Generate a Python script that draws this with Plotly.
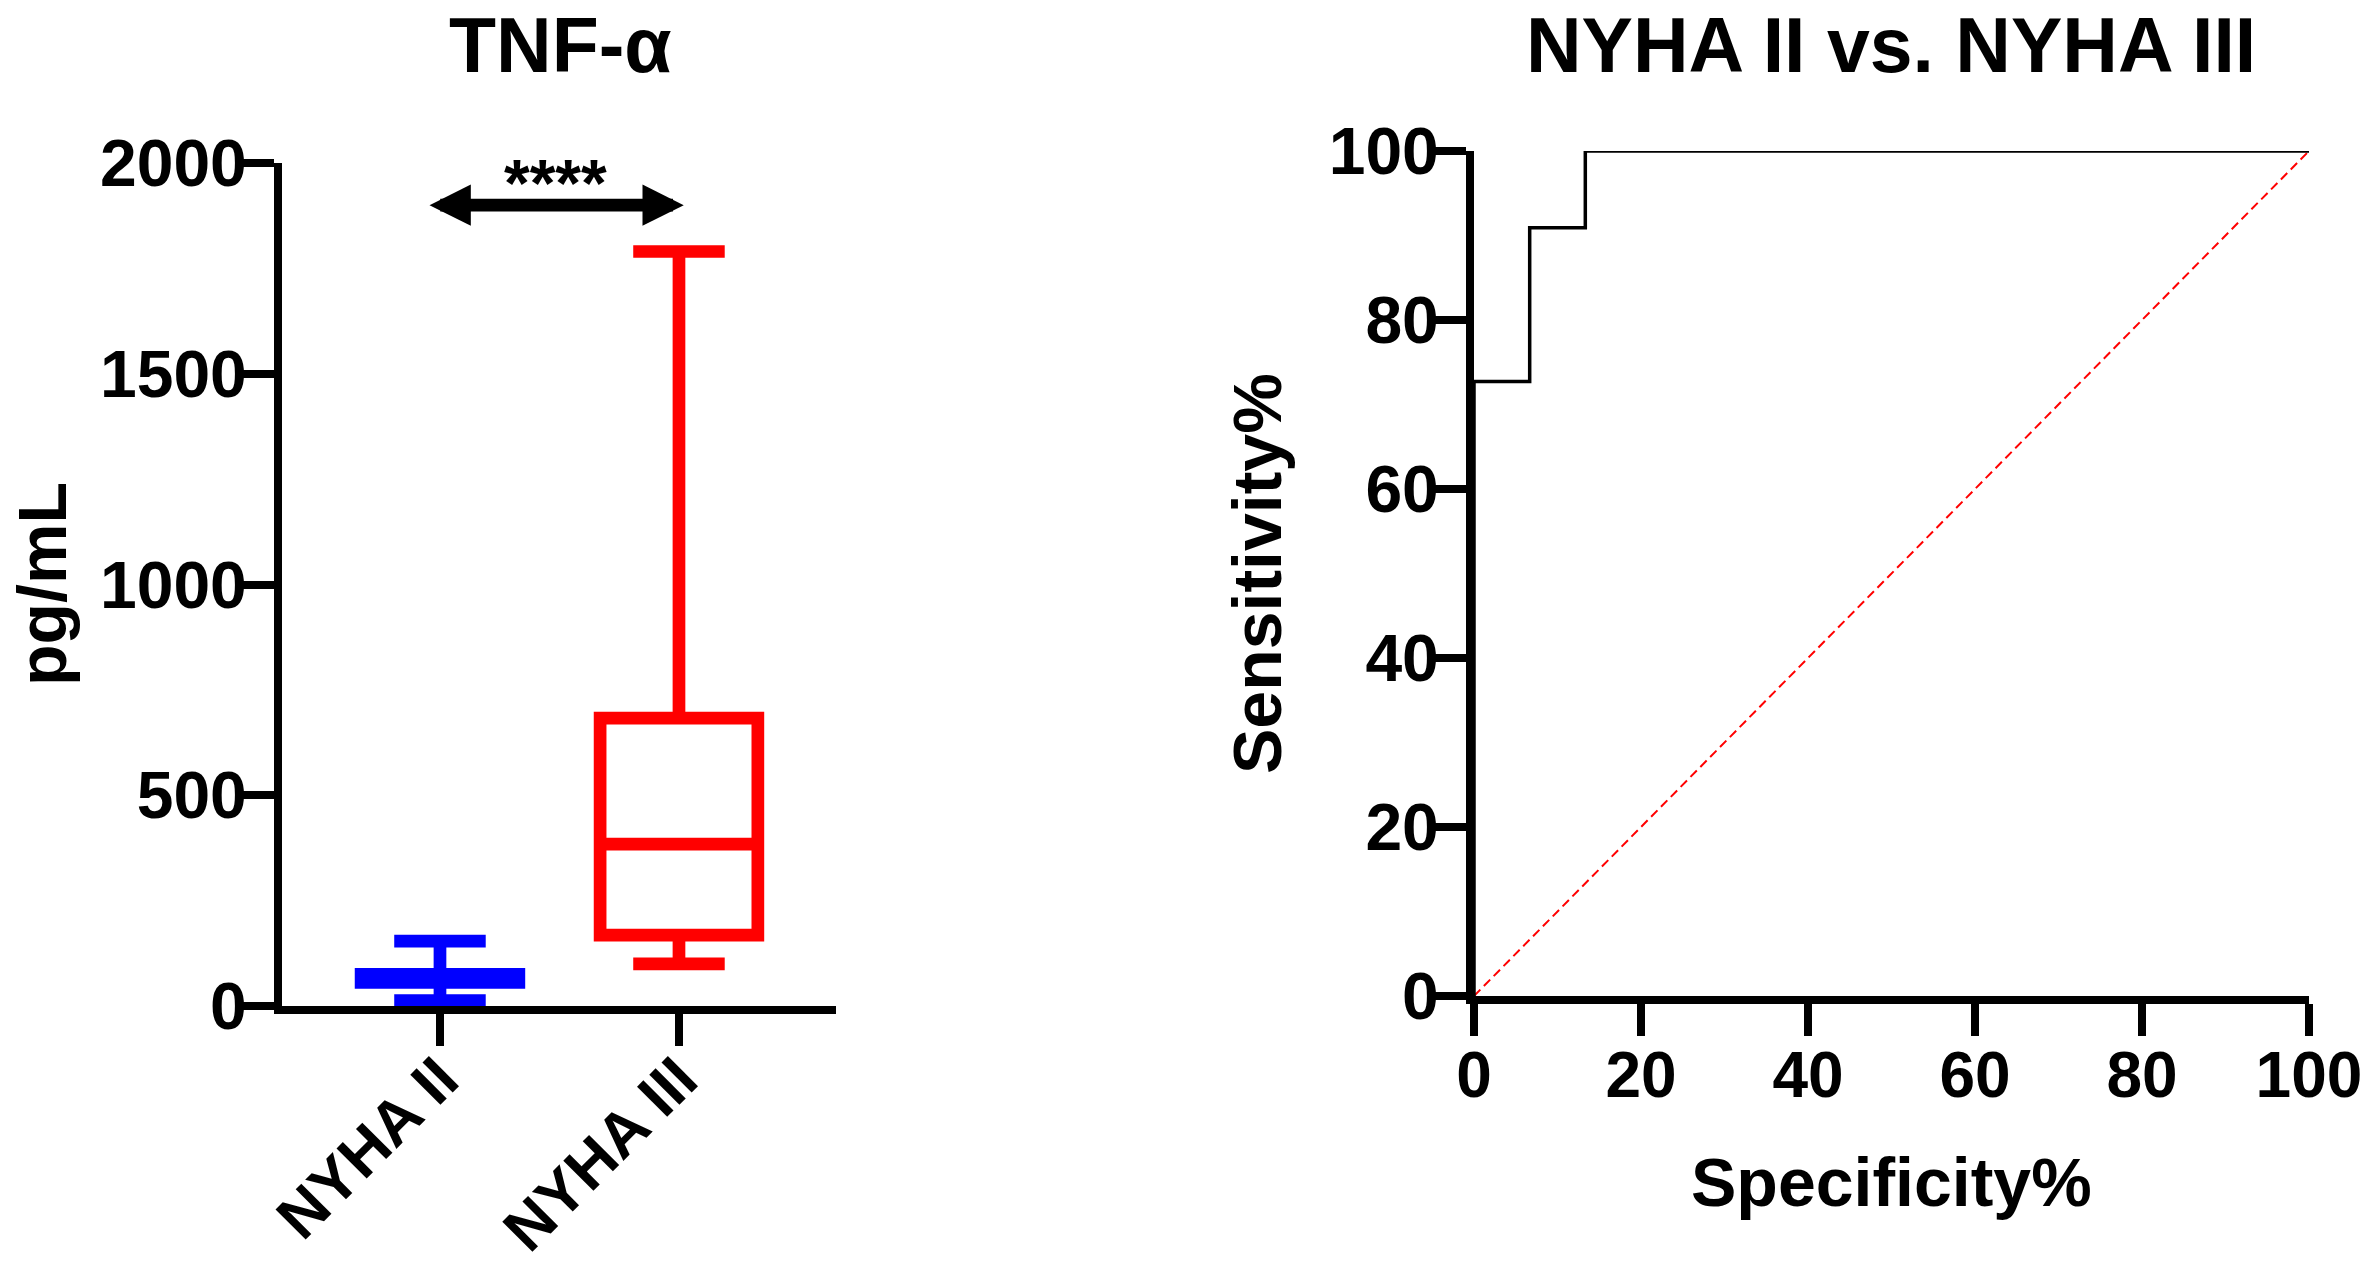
import plotly.graph_objects as go

# TNF-alpha box plot (pg/mL)
groups = ['NYHA II', 'NYHA III']
box_colors = ['#0000FF', '#FF0000']
tnf_min = [13, 100]
tnf_q1 = [56, 168]
tnf_median = [65, 384]
tnf_q3 = [75, 683]
tnf_max = [154, 1790]

sig_label = '****'
sig_y = 1900
sig_from = -0.05
sig_to = 1.02

# ROC curve NYHA II vs NYHA III (100 - specificity, sensitivity)
roc_x = [0, 0, 6.67, 13.33, 100]
roc_y = [0, 72.73, 90.91, 100, 100]
diag_x = [0, 100]
diag_y = [0, 100]

font_family = 'Liberation Sans, Arial, sans-serif'
W, H = 2362, 1266


def px_x(p):
    return p / W


def px_y(p):
    return 1 - p / H


fig = go.Figure()

for i, g in enumerate(groups):
    fig.add_trace(go.Box(
        x=[g], q1=[tnf_q1[i]], median=[tnf_median[i]], q3=[tnf_q3[i]],
        lowerfence=[tnf_min[i]], upperfence=[tnf_max[i]],
        boxpoints=False, width=0.66, whiskerwidth=0.58,
        fillcolor='white', line=dict(color=box_colors[i], width=12.7),
        showlegend=False, xaxis='x', yaxis='y', hoverinfo='skip',
    ))

fig.add_trace(go.Scatter(
    x=diag_x, y=diag_y, mode='lines', xaxis='x2', yaxis='y2',
    line=dict(color='#FF0000', width=2, dash='9px,5px'), showlegend=False,
))
fig.add_trace(go.Scatter(
    x=roc_x, y=roc_y, mode='lines', line_shape='hv', xaxis='x2', yaxis='y2',
    line=dict(color='black', width=3.5), showlegend=False,
))

axis_style = dict(
    showline=True, linewidth=8, linecolor='black', showgrid=False, zeroline=False,
    ticks='outside', ticklen=32, tickwidth=8, tickcolor='black', automargin=False,
    ticklabeloverflow='allow',
    tickfont=dict(family=font_family, size=66, color='black', weight='bold'),
)

fig.update_layout(
    width=W, height=H, autosize=False,
    margin=dict(l=0, r=0, t=0, b=0, pad=0),
    paper_bgcolor='white', plot_bgcolor='white',
    boxmode='overlay',
    xaxis=dict(domain=[px_x(282), px_x(836)], type='category', categoryorder='array',
               categoryarray=groups, range=[-0.661, 1.657], tickangle=-45,
               anchor='y', ticklabelstandoff=-28, **axis_style),
    yaxis=dict(domain=[px_y(1006), px_y(163)], range=[0, 2000], dtick=500,
               anchor='x', ticklabelstandoff=-18, **axis_style),
    xaxis2=dict(domain=[px_x(1474), px_x(2309)], range=[0, 100], dtick=20,
                anchor='y2', ticklabelstandoff=-16, **axis_style),
    yaxis2=dict(domain=[px_y(996), px_y(151)], range=[0, 100], dtick=20,
                anchor='x2', ticklabelstandoff=-18, **axis_style),
)
fig.update_layout(xaxis_tickfont_size=62, xaxis2_tickfont_size=64)

title_font = dict(family=font_family, size=77, color='black', weight='bold')
label_font = dict(family=font_family, size=68, color='black', weight='bold')

fig.add_annotation(text='TNF-α', x=px_x(560), y=1, xref='paper', yref='paper',
                   showarrow=False, font=title_font, xanchor='center', yanchor='top')
fig.add_annotation(text='NYHA II vs. NYHA III', x=px_x(1891), y=1,
                   xref='paper', yref='paper', showarrow=False, font=title_font,
                   xanchor='center', yanchor='top')
fig.add_annotation(text='pg/mL', x=px_x(42), y=px_y(584), xref='paper', yref='paper',
                   showarrow=False, font=label_font, textangle=-90,
                   xanchor='center', yanchor='middle')
fig.add_annotation(text='Sensitivity%', x=px_x(1257), y=px_y(574), xref='paper',
                   yref='paper', showarrow=False, font=label_font, textangle=-90,
                   xanchor='center', yanchor='middle')
fig.add_annotation(text='Specificity%', x=px_x(1891), y=px_y(1182), xref='paper',
                   yref='paper', showarrow=False, font=label_font,
                   xanchor='center', yanchor='middle')

# significance arrow with stars
fig.add_annotation(x=sig_to, y=sig_y, ax=sig_from, ay=sig_y, xref='x', yref='y',
                   axref='x', ayref='y', text='', showarrow=True,
                   arrowhead=2, arrowside='end+start', arrowsize=0.65,
                   arrowwidth=12.7, arrowcolor='black', standoff=0, startstandoff=0)
fig.add_annotation(x=(sig_from + sig_to) / 2, y=sig_y, xref='x', yref='y',
                   text=sig_label, showarrow=False, yanchor='bottom', yshift=-17,
                   font=dict(family=font_family, size=66, color='black', weight='bold'))

# drop the default page margin so the figure fills the window exactly
fig.write_html('out.html', config={'displayModeBar': False},
               post_script="document.body.style.margin='0';document.body.style.overflow='hidden';")
